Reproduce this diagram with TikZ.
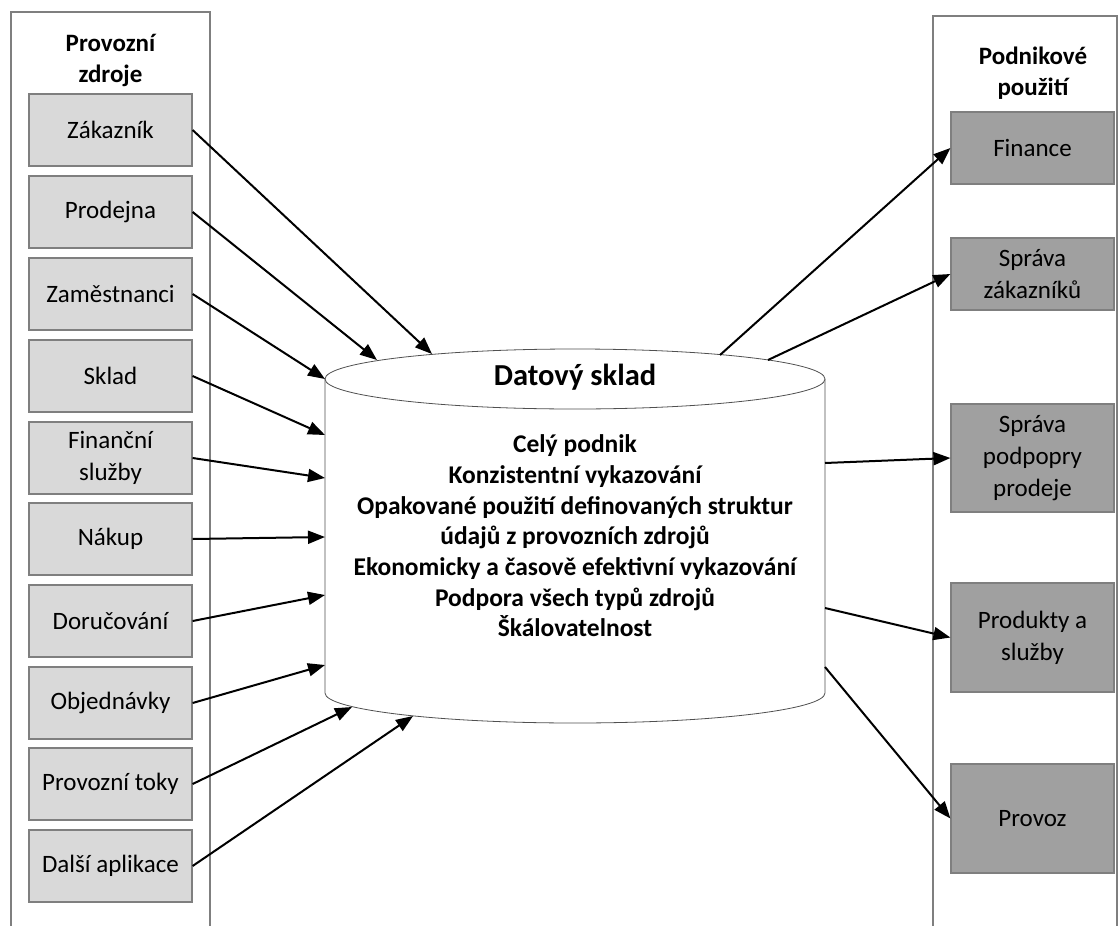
\documentclass[tikz,border=0pt]{standalone}
\usepackage{fontspec}
\setmainfont{Carlito}
\usetikzlibrary{arrows.meta}
\definecolor{srcfill}{HTML}{D9D9D9}
\definecolor{usefill}{HTML}{A0A0A0}
\definecolor{framegray}{HTML}{7F7F7F}
\definecolor{cylline}{HTML}{505050}
\begin{document}
\begin{tikzpicture}[x=1pt,y=-1pt,
  box/.style={draw=framegray, line width=1.2pt, minimum width=163pt, align=center,
    inner sep=0pt, font=\fontsize{25}{32}\selectfont},
  src/.style={box, fill=srcfill, minimum height=72pt},
  use/.style={box, fill=usefill},
  flow/.style={line width=2pt, -{Triangle[length=17pt,width=13pt]}},
  paneltitle/.style={align=center, font=\fontsize{25}{31}\selectfont\bfseries},
  panel/.style={draw=framegray, line width=1.5pt}
]
\useasboundingbox (0,0) rectangle (1119,926);

% side panels (open at the bottom)
\draw[panel] (11,926) -- (11,12) -- (210,12) -- (210,926);
\draw[panel] (933,926) -- (933,16) -- (1117,16) -- (1117,926);
\node[paneltitle] (srctitle) at (110.5,60) {Provozní\\zdroje};
\node[paneltitle] (usetitle) at (1033,73) {Podnikové\\použití};

% operational sources
\node[src] (s1)  at (110.5,130) {Zákazník};
\node[src] (s2)  at (110.5,212) {Prodejna};
\node[src] (s3)  at (110.5,294) {Zaměstnanci};
\node[src] (s4)  at (110.5,376) {Sklad};
\node[src] (s5)  at (110.5,458) {Finanční\\služby};
\node[src] (s6)  at (110.5,539) {Nákup};
\node[src] (s7)  at (110.5,621) {Doručování};
\node[src] (s8)  at (110.5,703) {Objednávky};
\node[src] (s9)  at (110.5,784) {Provozní toky};
\node[src] (s10) at (110.5,866) {Další aplikace};

% business use
\node[use, minimum height=72pt]  (u1) at (1032.5,148)   {Finance};
\node[use, minimum height=72pt]  (u2) at (1032.5,274)   {Správa\\zákazníků};
\node[use, minimum height=108pt] (u3) at (1032.5,458)   {Správa\\podpopry\\prodeje};
\node[use, minimum height=109pt] (u4) at (1032.5,637.5) {Produkty a\\služby};
\node[use, minimum height=109pt] (u5) at (1032.5,818.5) {Provoz};

% data warehouse cylinder
\fill[white] (325,379) -- (325,693) arc[start angle=180, end angle=360, x radius=250pt, y radius=30pt]
  -- (825,379) -- cycle;
\draw[cylline, line width=0.8pt] (325,379) -- (325,693)
  arc[start angle=180, end angle=360, x radius=250pt, y radius=30pt] -- (825,379);
\draw[cylline, line width=0.8pt, fill=white] (575,379) ellipse[x radius=250pt, y radius=30pt];
\node[font=\fontsize{30.5}{36}\selectfont\bfseries] (dwtitle) at (575,377) {Datový sklad};
\node[align=center, font=\fontsize{25.5}{30.7}\selectfont\bfseries] (dwbody) at (575,536)
  {Celý podnik\\Konzistentní vykazování\\Opakované použití definovaných struktur\\
   údajů z provozních zdrojů\\Ekonomicky a časově efektivní vykazování\\
   Podpora všech typů zdrojů\\Škálovatelnost};

% contact points on the cylinder
\coordinate (in1)  at (432,354);
\coordinate (in2)  at (377,360);
\coordinate (in3)  at (325,379);
\coordinate (in4)  at (325,435);
\coordinate (in5)  at (325,478);
\coordinate (in6)  at (325,537);
\coordinate (in7)  at (325,595);
\coordinate (in8)  at (325,665);
\coordinate (in9)  at (352,707);
\coordinate (in10) at (413,716);
\coordinate (out1) at (720,355);
\coordinate (out2) at (768,360);
\coordinate (out3) at (825,463);
\coordinate (out4) at (825,608);
\coordinate (out5) at (825,667);

% flows into the warehouse
\foreach \i in {1,...,10} {
  \draw[flow] (s\i.east) -- (in\i);
}
% flows out of the warehouse
\foreach \i in {1,...,5} {
  \draw[flow] (out\i) -- (u\i.west);
}
\end{tikzpicture}
\end{document}
